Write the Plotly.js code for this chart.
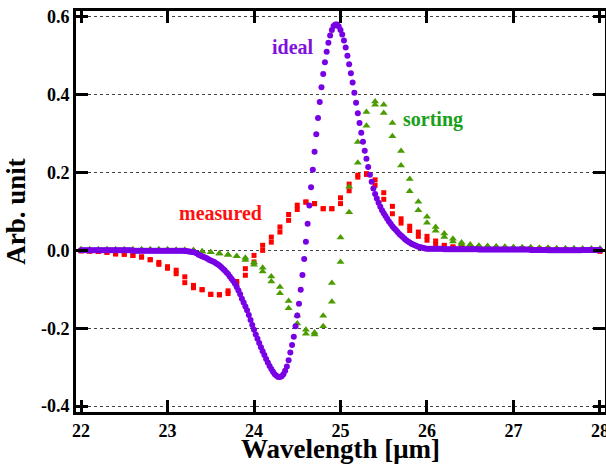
<!DOCTYPE html>
<html>
<head>
<meta charset="utf-8">
<script src="https://cdn.plot.ly/plotly-3.0.1.min.js"></script>
<style>html,body{margin:0;padding:0;background:#fff;}#chart{width:606px;height:464px;}</style>
</head>
<body>
<div id="chart"></div>
<script>
// ---- data ----
// ideal: sampled every 0.02 um from 22.00 to 28.00
var idealStart = 22.0, idealStep = 0.02;
var idealValues = [
  0,0,0,0,0,0,0,0,0,0,
  0,0,0,0,0,0,0,0,0,0,
  0,0,0,0,0,0,0,0,0,0,
  -0.001,-0.001,-0.001,-0.001,-0.001,-0.001,-0.001,-0.001,-0.001,-0.001,
  -0.001,-0.001,-0.001,-0.001,-0.001,-0.001,-0.001,-0.001,-0.001,-0.001,
  -0.001,-0.001,-0.001,-0.001,-0.001,-0.001,-0.001,-0.001,-0.001,-0.001,
  -0.002,-0.002,-0.003,-0.003,-0.004,-0.004,-0.006,-0.008,-0.011,-0.013,
  -0.015,-0.017,-0.019,-0.021,-0.024,-0.026,-0.028,-0.030,-0.033,-0.036,
  -0.039,-0.043,-0.047,-0.051,-0.056,-0.061,-0.067,-0.073,-0.079,-0.086,
  -0.094,-0.103,-0.113,-0.124,-0.134,-0.144,-0.154,-0.166,-0.179,-0.192,
  -0.204,-0.216,-0.227,-0.238,-0.249,-0.259,-0.269,-0.279,-0.288,-0.297,
  -0.305,-0.312,-0.318,-0.322,-0.325,-0.325,-0.323,-0.318,-0.309,-0.298,
  -0.282,-0.262,-0.243,-0.222,-0.195,-0.167,-0.137,-0.101,-0.063,-0.022,
  0.022,0.068,0.115,0.162,0.207,0.253,0.298,0.340,0.381,0.419,
  0.453,0.483,0.510,0.533,0.552,0.566,0.576,0.580,0.580,0.575,
  0.566,0.554,0.539,0.521,0.500,0.478,0.455,0.431,0.405,0.379,
  0.352,0.327,0.302,0.279,0.256,0.235,0.214,0.194,0.176,0.159,
  0.145,0.133,0.122,0.112,0.103,0.095,0.088,0.081,0.074,0.068,
  0.062,0.057,0.052,0.047,0.042,0.038,0.034,0.030,0.026,0.023,
  0.020,0.017,0.015,0.013,0.011,0.009,0.008,0.007,0.006,0.005,
  0.004,0.004,0.004,0.004,0.004,0.004,0.004,0.004,0.004,0.004,
  0.003,0.003,0.003,0.003,0.003,0.003,0.003,0.003,0.003,0.003,
  0.003,0.003,0.003,0.003,0.003,0.003,0.003,0.003,0.003,0.003,
  0.002,0.002,0.002,0.002,0.002,0.002,0.002,0.002,0.002,0.002,
  0.002,0.002,0.002,0.002,0.002,0.002,0.002,0.002,0.002,0.002,
  0.002,0.002,0.002,0.002,0.002,0.002,0.002,0.002,0.002,0.002,
  0.001,0.001,0.001,0.001,0.001,0.001,0.001,0.001,0.001,0.001,
  0,0,0,0,0,0,0,0,0,0,
  0,0,0,0,0,0,0,0,0,0,
  0.001,0.001,0.001,0.001,0.001,0.001,0.001,0.001,0.001,0.001,
  0.001
];

// measured and sorting: sampled every 0.1 um, two readings per wavelength
var wavelengths = [22.0,22.1,22.2,22.3,22.4,22.5,22.6,22.7,22.8,22.9,
  23.0,23.1,23.2,23.3,23.4,23.5,23.6,23.7,23.8,23.9,
  24.0,24.1,24.2,24.3,24.4,24.5,24.6,24.7,24.8,24.9,
  25.0,25.1,25.2,25.3,25.4,25.5,25.6,25.7,25.8,25.9,
  26.0,26.1,26.2,26.3,26.4,26.5,26.6,26.7,26.8,26.9,
  27.0,27.1,27.2,27.3,27.4,27.5,27.6,27.7,27.8,27.9,28.0];

var measuredA = [-0.001,-0.002,-0.003,-0.005,-0.009,-0.010,-0.013,-0.017,-0.024,-0.031,
  -0.042,-0.051,-0.068,-0.090,-0.101,-0.113,-0.114,-0.104,-0.080,-0.047,
  -0.013,0.013,0.034,0.060,0.092,0.116,0.124,0.120,0.107,0.107,
  0.135,0.170,0.193,0.197,0.181,0.148,0.113,0.081,0.062,0.047,
  0.036,0.024,0.013,0.009,0.007,0.006,0.006,0.005,0.005,0.004,
  0.004,0.004,0.003,0.003,0.003,0.002,0.002,0.002,0.001,0.000,-0.002];
var measuredB = [-0.001,-0.002,-0.003,-0.005,-0.009,-0.010,-0.013,-0.017,-0.024,-0.036,
  -0.046,-0.060,-0.083,-0.096,-0.101,-0.113,-0.114,-0.111,-0.085,-0.064,
  -0.030,0.000,0.021,0.047,0.077,0.105,0.124,0.120,0.107,0.107,
  0.120,0.153,0.188,0.195,0.167,0.131,0.094,0.070,0.051,0.036,
  0.026,0.015,0.011,0.008,0.007,0.006,0.006,0.005,0.005,0.004,
  0.004,0.004,0.003,0.003,0.003,0.002,0.002,0.002,0.001,0.000,-0.002];

var sortingA = [0.002,0.002,0.002,0.002,0.002,0.002,0.002,0.002,0.002,0.002,
  0.002,0.001,0.001,0.000,-0.003,-0.005,-0.008,-0.011,-0.015,-0.019,
  -0.031,-0.045,-0.067,-0.094,-0.130,-0.167,-0.204,-0.211,-0.168,-0.084,
  0.033,0.163,0.278,0.355,0.382,0.374,0.327,0.255,0.183,0.125,
  0.086,0.060,0.043,0.030,0.020,0.015,0.012,0.011,0.010,0.009,
  0.008,0.007,0.007,0.006,0.006,0.005,0.005,0.005,0.004,0.004,0.004];
var sortingB = [0.002,0.002,0.002,0.002,0.002,0.002,0.002,0.002,0.002,0.002,
  0.002,0.001,0.001,0.000,-0.003,-0.005,-0.008,-0.011,-0.015,-0.025,
  -0.037,-0.054,-0.080,-0.110,-0.149,-0.188,-0.214,-0.216,-0.195,-0.132,
  -0.030,0.098,0.225,0.320,0.374,0.353,0.293,0.218,0.152,0.103,
  0.071,0.050,0.034,0.023,0.016,0.013,0.011,0.010,0.009,0.008,
  0.008,0.007,0.007,0.006,0.006,0.005,0.005,0.005,0.004,0.004,0.004];

var xTickVals = [22,23,24,25,26,27,28];
var xTickText = ['22','23','24','25','26','27','28'];
var yTickVals = [-0.4,-0.2,0,0.2,0.4,0.6];
var yTickText = ['-0.4','-0.2','0.0','0.2','0.4','0.6'];

var labelIdeal = 'ideal', labelSorting = 'sorting', labelMeasured = 'measured';

// ---- build traces ----
var idealX = idealValues.map(function(_, i){ return +(idealStart + i*idealStep).toFixed(2); });
function doubled(a, b){
  var xs = [], ys = [];
  for (var i = 0; i < wavelengths.length; i++){
    xs.push(wavelengths[i], wavelengths[i]);
    ys.push(a[i], b[i]);
  }
  return {x: xs, y: ys};
}
var meas = doubled(measuredA, measuredB);
var sort = doubled(sortingA, sortingB);

var PURPLE = '#7800e4', RED = '#ff0000', GREEN = '#4b9c00';
var FONT = '"Liberation Serif", "Times New Roman", serif';

function tickFont(){ return {family: FONT, size: 18, weight: 700, color: '#000'}; }

var traces = [
  {x: meas.x, y: meas.y, mode: 'markers', type: 'scatter', name: labelMeasured,
   marker: {symbol: 'square', size: 5, color: RED, line: {width: 0}}},
  {x: sort.x, y: sort.y, mode: 'markers', type: 'scatter', name: labelSorting,
   marker: {symbol: 'triangle-up', size: 7, color: GREEN, line: {width: 0}}},
  {x: idealX, y: idealValues, mode: 'markers', type: 'scatter', name: labelIdeal,
   marker: {symbol: 'circle', size: 6, color: PURPLE, line: {width: 0}}}
];

var layout = {
  width: 606, height: 464,
  margin: {l: 76, r: 1, t: 11, b: 52, pad: 0},
  paper_bgcolor: '#fff', plot_bgcolor: '#fff',
  showlegend: false,
  xaxis: {
    ticks: 'inside', ticklen: 12, tickwidth: 3, tickcolor: '#000',
    showline: true, linewidth: 3, linecolor: '#000', mirror: 'ticks',
    zeroline: false, fixedrange: true, ticklabeloverflow: 'allow',
    tickfont: tickFont(),
    range: [21.942, 28.058], tickmode: 'array', tickvals: xTickVals, ticktext: xTickText,
    showgrid: false, automargin: false,
    title: {text: 'Wavelength [μm]', standoff: 0,
            font: {family: FONT, size: 27, weight: 700, color: '#000'}}
  },
  yaxis: {
    ticks: 'inside', ticklen: 12, tickwidth: 3, tickcolor: '#000',
    showline: true, linewidth: 3, linecolor: '#000', mirror: 'ticks',
    zeroline: false, fixedrange: true, ticklabeloverflow: 'allow',
    tickfont: tickFont(),
    range: [-0.4151, 0.6146], tickmode: 'array', tickvals: yTickVals, ticktext: yTickText,
    showgrid: true, gridcolor: '#444', gridwidth: 1, griddash: 'dot', automargin: false,
    title: {text: 'Arb. unit', standoff: 8,
            font: {family: FONT, size: 27, weight: 700, color: '#000'}}
  },
  annotations: [
    {x: 24.445, y: 0.521, xref: 'x', yref: 'y', text: labelIdeal, showarrow: false,
     font: {family: FONT, size: 20, weight: 700, color: '#7f10e0'}},
    {x: 26.07, y: 0.336, xref: 'x', yref: 'y', text: labelSorting, showarrow: false,
     font: {family: FONT, size: 20, weight: 700, color: '#18a018'}},
    {x: 23.613, y: 0.095, xref: 'x', yref: 'y', text: labelMeasured, showarrow: false,
     font: {family: FONT, size: 20, weight: 700, color: '#ff1010'}}
  ]
};

Plotly.newPlot('chart', traces, layout, {displayModeBar: false, staticPlot: true});
</script>
</body>
</html>
